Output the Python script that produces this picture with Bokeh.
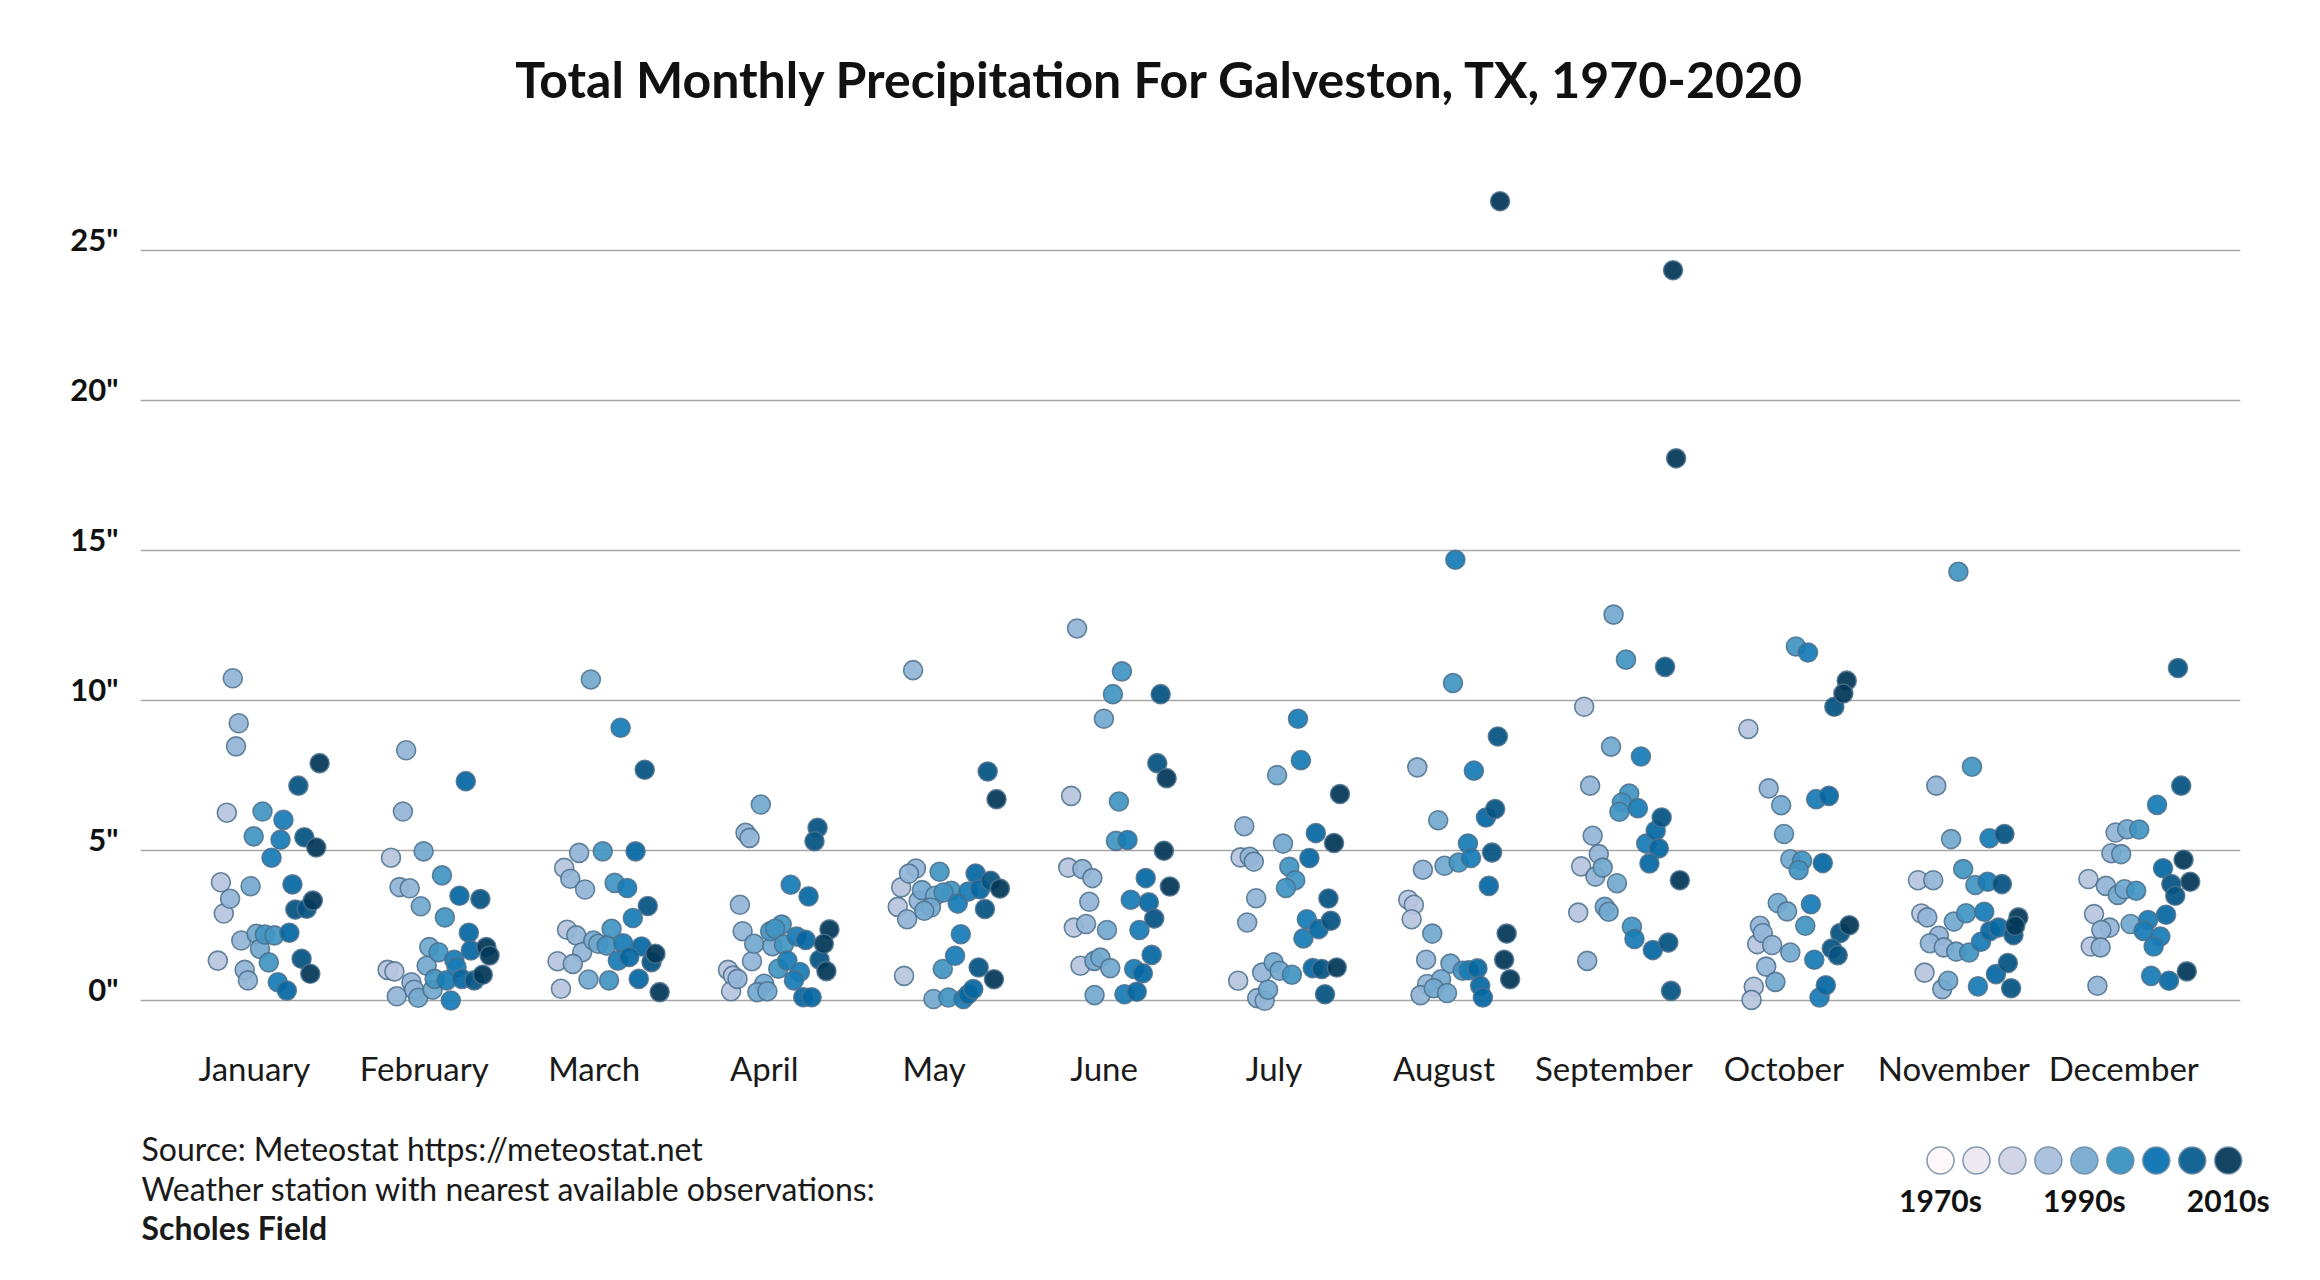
from bokeh.plotting import figure
from bokeh.models import (ColumnDataSource, LinearColorMapper, FixedTicker, Range1d,
                          LinearAxis, Grid, Label)
from bokeh.embed import file_html
from bokeh.resources import INLINE
from bokeh.core.properties import value
from bokeh.transform import transform

TITLE = "Total Monthly Precipitation For Galveston, TX, 1970-2020"
months = ["January", "February", "March", "April", "May", "June", "July",
          "August", "September", "October", "November", "December"]
y_ticks = [0, 5, 10, 15, 20, 25]
y_tick_labels = ['0"', '5"', '10"', '15"', '20"', '25"']
legend_years = [1970, 1975, 1980, 1985, 1990, 1995, 2000, 2005, 2010]
legend_labels = ["1970s", "1990s", "2010s"]
legend_label_years = [1970, 1990, 2010]
source_lines = ["Source: Meteostat https://meteostat.net",
                "Weather station with nearest available observations:",
                "Scholes Field"]
pubu9 = ["#fff7fb", "#ece7f2", "#d0d1e6", "#a6bddb", "#74a9cf",
         "#3690c0", "#0570b0", "#045a8d", "#023858"]

# ---- data: per month, horizontal jitter offset (month units), total inches, year ----
jan_offset = [-0.127, -0.092, -0.108, 0.384, 0.259, -0.162, 0.048, 0.171, -0.004, 0.154, 0.294, 0.364, 0.101, -0.197, -0.022, 0.224, -0.143, 0.344, 0.241, 0.308, -0.18, -0.077, 0.013, 0.062, 0.118, 0.206, 0.033, -0.215, 0.085, 0.278, -0.057, -0.038, 0.138, 0.191, 0.329]
jan_inches = [10.75, 9.25, 8.48, 7.92, 7.17, 6.27, 6.31, 6.03, 5.48, 5.37, 5.45, 5.11, 4.77, 3.95, 3.82, 3.88, 3.40, 3.34, 3.04, 3.07, 2.91, 2.01, 2.23, 2.21, 2.18, 2.27, 1.73, 1.34, 1.28, 1.40, 1.03, 0.68, 0.62, 0.34, 0.90]
jan_year = [1987, 1987, 1987, 2013, 2006, 1983, 1994, 1998, 1994, 1998, 2006, 2013, 1998, 1983, 1990, 2002, 1987, 2013, 2006, 2006, 1983, 1987, 1990, 1994, 1994, 2002, 1990, 1983, 1994, 2006, 1987, 1987, 1998, 2002, 2013]

feb_offset = [-0.107, 0.244, -0.126, -0.196, -0.004, 0.104, -0.146, -0.086, 0.207, 0.33, -0.021, 0.121, 0.262, 0.029, 0.084, 0.365, 0.384, 0.274, 0.176, 0.014, 0.19, -0.216, -0.176, 0.061, 0.131, 0.221, 0.294, 0.344, -0.076, -0.06, -0.162, -0.036, 0.049, 0.156]
feb_inches = [8.35, 7.32, 6.31, 4.77, 4.98, 4.18, 3.79, 3.75, 3.50, 3.39, 3.15, 2.78, 2.27, 1.79, 1.62, 1.79, 1.51, 1.68, 1.37, 1.17, 1.12, 1.03, 0.98, 0.73, 0.68, 0.73, 0.68, 0.87, 0.62, 0.37, 0.15, 0.10, 0.37, 0.01]
feb_year = [1987, 2002, 1987, 1983, 1990, 1994, 1987, 1987, 2002, 2006, 1990, 1994, 2002, 1990, 1994, 2013, 2013, 2002, 1998, 1990, 1998, 1983, 1983, 1994, 1998, 2002, 2006, 2013, 1987, 1987, 1987, 1990, 1990, 1998]

mar_offset = [-0.02, 0.155, 0.297, -0.089, 0.05, 0.243, -0.177, -0.141, -0.054, 0.12, 0.194, 0.315, 0.227, -0.16, -0.106, 0.102, -0.005, 0.024, 0.073, 0.17, 0.278, -0.071, 0.36, 0.139, 0.206, 0.337, -0.216, -0.126, -0.034, 0.087, 0.262, -0.196, 0.385]
mar_inches = [10.71, 9.10, 7.70, 4.93, 4.98, 4.98, 4.43, 4.07, 3.71, 3.93, 3.76, 3.16, 2.76, 2.37, 2.18, 2.40, 2.01, 1.90, 1.84, 1.92, 1.81, 1.62, 1.57, 1.34, 1.46, 1.29, 1.32, 1.23, 0.71, 0.68, 0.73, 0.40, 0.29]
mar_year = [1990, 1998, 2006, 1987, 1994, 2002, 1983, 1987, 1987, 1994, 1998, 2006, 1998, 1983, 1987, 1994, 1990, 1990, 1994, 1998, 2002, 1987, 2013, 1998, 2002, 2006, 1983, 1987, 1990, 1994, 2002, 1983, 2013]

apr_offset = [-0.02, -0.11, -0.086, 0.314, 0.296, 0.156, 0.261, -0.143, -0.127, 0.384, 0.035, 0.103, 0.064, 0.191, 0.244, 0.351, -0.059, 0.048, 0.116, 0.326, -0.072, 0.136, 0.083, 0.366, 0.21, -0.213, -0.184, -0.157, 0.175, 0.0, -0.195, -0.04, 0.019, 0.23, 0.279]
apr_inches = [6.54, 5.60, 5.43, 5.77, 5.32, 3.87, 3.48, 3.20, 2.32, 2.38, 2.32, 2.54, 2.40, 2.14, 2.03, 1.90, 1.90, 1.82, 1.88, 1.37, 1.32, 1.34, 1.07, 0.99, 0.96, 1.03, 0.84, 0.73, 0.68, 0.57, 0.32, 0.29, 0.32, 0.12, 0.12]
apr_year = [1990, 1987, 1987, 2006, 2006, 1998, 2002, 1987, 1987, 2013, 1994, 1994, 1994, 1998, 2002, 2013, 1990, 1990, 1994, 2006, 1987, 1998, 1994, 2013, 1998, 1983, 1983, 1987, 1998, 1990, 1983, 1990, 1990, 2002, 2002]

may_offset = [-0.124, 0.315, 0.367, -0.107, -0.148, 0.032, 0.244, -0.194, -0.072, 0.332, 0.387, 0.27, 0.201, 0.1, 0.055, 0.006, -0.091, -0.214, -0.019, -0.058, 0.139, 0.299, -0.159, 0.157, 0.123, 0.051, 0.262, 0.352, -0.177, -0.004, 0.084, 0.172, 0.201, 0.23]
may_inches = [11.02, 7.64, 6.72, 4.41, 4.24, 4.30, 4.24, 3.78, 3.69, 4.00, 3.74, 3.72, 3.64, 3.67, 3.61, 3.50, 3.33, 3.13, 3.11, 3.00, 3.24, 3.06, 2.72, 2.22, 1.50, 1.06, 1.11, 0.72, 0.83, 0.06, 0.11, 0.06, 0.22, 0.39]
may_year = [1987, 2006, 2013, 1987, 1987, 1994, 2002, 1983, 1990, 2006, 2013, 2002, 1998, 1994, 1994, 1990, 1987, 1983, 1990, 1990, 1998, 2006, 1987, 1998, 1998, 1994, 2006, 2013, 1983, 1990, 1994, 1998, 2002, 2002]

jun_offset = [-0.159, 0.105, 0.052, 0.333, -0.001, 0.313, 0.368, -0.194, 0.087, 0.07, 0.138, 0.352, -0.211, -0.128, -0.069, 0.245, 0.387, -0.087, 0.157, 0.263, 0.295, -0.178, -0.106, 0.017, 0.208, 0.28, -0.139, -0.057, -0.022, 0.036, 0.177, 0.228, -0.056, 0.12, 0.192]
jun_inches = [12.41, 10.98, 10.22, 10.22, 9.40, 7.92, 7.42, 6.83, 6.64, 5.33, 5.36, 5.00, 4.44, 4.39, 4.09, 4.09, 3.81, 3.30, 3.37, 3.28, 2.74, 2.44, 2.56, 2.36, 2.36, 1.53, 1.17, 1.33, 1.44, 1.09, 1.06, 0.92, 0.19, 0.22, 0.30]
jun_year = [1987, 1994, 1994, 2006, 1990, 2006, 2013, 1983, 1994, 1994, 1998, 2013, 1983, 1987, 1987, 2002, 2013, 1987, 1998, 2002, 2006, 1983, 1987, 1990, 1998, 2002, 1983, 1990, 1990, 1990, 1998, 2002, 1990, 1998, 2002]

jul_offset = [0.141, 0.158, 0.018, 0.388, -0.175, 0.246, 0.053, 0.353, -0.197, -0.143, -0.119, 0.208, 0.09, 0.125, 0.07, 0.32, -0.105, -0.158, 0.193, 0.334, 0.263, 0.173, -0.002, -0.07, 0.033, 0.105, 0.228, 0.281, 0.369, -0.211, -0.035, -0.099, -0.055, 0.3]
jul_inches = [9.40, 8.02, 7.52, 6.89, 5.82, 5.59, 5.24, 5.26, 4.78, 4.80, 4.64, 4.76, 4.47, 4.02, 3.76, 3.41, 3.42, 2.61, 2.72, 2.67, 2.39, 2.08, 1.28, 0.94, 1.00, 0.87, 1.09, 1.06, 1.11, 0.67, 0.37, 0.09, 0.00, 0.22]
jul_year = [1998, 1998, 1990, 2013, 1987, 2002, 1990, 2013, 1983, 1987, 1987, 2002, 1994, 1994, 1994, 2006, 1987, 1987, 1998, 2006, 2002, 1998, 1990, 1987, 1990, 1994, 2002, 2006, 2013, 1983, 1990, 1987, 1987, 2006]

aug_offset = [0.053, 0.317, -0.157, 0.176, 0.301, 0.247, -0.034, 0.141, 0.283, 0.159, 0.086, 0.003, -0.124, 0.264, -0.21, -0.177, -0.19, -0.069, 0.369, -0.105, 0.038, 0.354, 0.11, 0.145, 0.197, 0.389, -0.099, -0.017, -0.06, 0.018, 0.213, 0.229, -0.138, 0.067, 0.33]
aug_inches = [10.59, 8.81, 7.78, 7.67, 6.39, 6.11, 6.02, 5.24, 4.94, 4.76, 4.61, 4.50, 4.37, 3.83, 3.37, 3.20, 2.72, 2.24, 2.24, 1.37, 1.24, 1.37, 1.00, 1.02, 1.08, 0.72, 0.56, 0.72, 0.42, 0.26, 0.50, 0.11, 0.19, 14.7, 26.65]
aug_year = [1994, 2006, 1987, 1998, 2006, 2002, 1990, 1998, 2006, 1998, 1994, 1990, 1987, 2002, 1983, 1983, 1983, 1990, 2013, 1987, 1990, 2013, 1994, 1998, 2002, 2013, 1987, 1990, 1990, 1990, 2002, 2002, 1987, 1998, 2013]

sep_offset = [-0.002, 0.071, 0.301, -0.175, -0.017, 0.159, -0.14, 0.09, 0.047, 0.141, 0.032, 0.281, 0.246, -0.125, 0.19, 0.264, -0.089, -0.193, -0.066, -0.109, 0.209, 0.018, 0.388, -0.21, -0.054, -0.031, 0.106, 0.121, 0.229, 0.32, -0.157, 0.336, 0.348, 0.366]
sep_inches = [12.87, 11.37, 11.13, 9.80, 8.47, 8.14, 7.17, 6.91, 6.61, 6.42, 6.30, 6.11, 5.67, 5.50, 5.24, 5.08, 4.89, 4.48, 4.44, 4.14, 4.58, 3.92, 4.02, 2.94, 3.13, 2.97, 2.47, 2.06, 1.69, 1.94, 1.33, 0.33, 24.35, 18.08]
sep_year = [1990, 1994, 2006, 1983, 1990, 1998, 1987, 1994, 1994, 1998, 1994, 2006, 2002, 1987, 1998, 2002, 1987, 1983, 1990, 1987, 2002, 1990, 2013, 1983, 1990, 1990, 1994, 1998, 2002, 2006, 1987, 2006, 2013, 2013]

oct_offset = [0.071, 0.142, 0.37, 0.35, 0.297, -0.209, -0.089, -0.016, 0.19, 0.265, 0.001, 0.038, 0.107, 0.087, 0.229, -0.036, 0.019, 0.159, 0.126, -0.141, -0.124, 0.385, 0.331, -0.157, -0.069, 0.038, 0.282, 0.317, 0.179, -0.104, -0.05, -0.177, -0.19, 0.247, 0.21]
oct_inches = [11.81, 11.61, 10.67, 10.24, 9.80, 9.06, 7.08, 6.52, 6.72, 6.83, 5.56, 4.72, 4.67, 4.36, 4.59, 3.26, 2.98, 3.22, 2.50, 2.50, 2.26, 2.52, 2.26, 1.89, 1.86, 1.61, 1.74, 1.52, 1.37, 1.14, 0.63, 0.47, 0.03, 0.52, 0.11]
oct_year = [1994, 1998, 2013, 2013, 2006, 1983, 1987, 1990, 1998, 2002, 1990, 1990, 1994, 1994, 2002, 1990, 1990, 1998, 1994, 1987, 1987, 2013, 2006, 1983, 1987, 1990, 2006, 2006, 1998, 1987, 1990, 1983, 1983, 2002, 1998]

nov_offset = [0.107, -0.103, -0.016, 0.21, 0.298, 0.055, -0.211, -0.121, 0.127, 0.199, 0.283, -0.191, -0.156, 0.072, 0.179, 0.0, 0.38, 0.361, 0.214, 0.263, 0.351, -0.088, -0.141, 0.16, -0.059, 0.014, 0.09, -0.172, -0.033, -0.068, 0.142, 0.248, 0.318, 0.337, 0.027]
nov_inches = [7.80, 7.17, 5.39, 5.42, 5.56, 4.39, 4.02, 4.02, 3.86, 3.97, 3.89, 2.91, 2.78, 2.92, 2.97, 2.64, 2.78, 2.50, 2.33, 2.44, 2.19, 2.17, 1.92, 1.97, 1.78, 1.64, 1.61, 0.94, 0.67, 0.39, 0.48, 0.89, 1.26, 0.42, 14.3]
nov_year = [1994, 1987, 1990, 1998, 2006, 1994, 1983, 1987, 1994, 1998, 2006, 1983, 1987, 1994, 1998, 1990, 2013, 2013, 2002, 2002, 2006, 1987, 1987, 1998, 1987, 1990, 1994, 1983, 1990, 1987, 1998, 2002, 2006, 2006, 1994]

dec_offset = [0.319, 0.338, 0.196, -0.048, 0.02, 0.091, -0.073, -0.015, 0.352, 0.231, -0.208, -0.105, 0.391, 0.28, -0.035, 0.005, 0.073, 0.303, -0.175, 0.249, 0.04, 0.143, -0.083, -0.132, 0.117, 0.215, 0.176, -0.194, -0.136, 0.161, 0.266, 0.371, -0.155]
dec_inches = [11.09, 7.17, 6.53, 5.61, 5.72, 5.71, 4.92, 4.89, 4.70, 4.42, 4.06, 3.83, 3.97, 3.89, 3.53, 3.72, 3.67, 3.50, 2.89, 2.87, 2.56, 2.69, 2.44, 2.36, 2.33, 2.14, 1.81, 1.81, 1.78, 0.83, 0.67, 0.98, 0.50]
dec_year = [2006, 2006, 1998, 1987, 1990, 1994, 1987, 1990, 2013, 2002, 1983, 1987, 2013, 2006, 1990, 1990, 1994, 2006, 1983, 2002, 1990, 1998, 1987, 1987, 1998, 1998, 1998, 1983, 1987, 1998, 2002, 2013, 1987]

month_data = [
    (jan_offset, jan_inches, jan_year), (feb_offset, feb_inches, feb_year),
    (mar_offset, mar_inches, mar_year), (apr_offset, apr_inches, apr_year),
    (may_offset, may_inches, may_year), (jun_offset, jun_inches, jun_year),
    (jul_offset, jul_inches, jul_year), (aug_offset, aug_inches, aug_year),
    (sep_offset, sep_inches, sep_year), (oct_offset, oct_inches, oct_year),
    (nov_offset, nov_inches, nov_year), (dec_offset, dec_inches, dec_year),
]

# ---- table: month index + jitter offset on a numeric month axis ----
rows = []
for mi, (offs, vals, yrs) in enumerate(month_data):
    for o, v, yr in zip(offs, vals, yrs):
        rows.append((yr, mi + o, v, months[mi]))
rows.sort(key=lambda r: r[0])  # later years drawn on top
src = ColumnDataSource(dict(year=[r[0] for r in rows], x=[r[1] for r in rows],
                            inches=[r[2] for r in rows], month=[r[3] for r in rows]))


def _rgb(h):
    return tuple(int(h[i:i + 2], 16) for i in (1, 3, 5))


palette = []
for k in range(256):
    t = k / 255 * 8
    i = min(int(t), 7)
    f = t - i
    a, b = _rgb(pubu9[i]), _rgb(pubu9[i + 1])
    palette.append("#%02x%02x%02x" % tuple(round(a[j] + (b[j] - a[j]) * f) for j in range(3)))
mapper = LinearColorMapper(palette=palette, low=legend_years[0], high=legend_years[-1])

FONT = "Lato"
W = 2312
FILL_ALPHA = 0.93

# ---------------- header (title) ----------------
head = figure(width=W, height=150, x_range=Range1d(0, W), y_range=Range1d(0, 150),
              output_backend="svg", toolbar_location=None,
              x_axis_location=None, y_axis_location=None, min_border=0,
              background_fill_color="white", border_fill_color="white",
              outline_line_color=None)
head.xgrid.visible = False
head.ygrid.visible = False
head.text(x=[1160], y=[72], text=[TITLE], text_align="center", text_baseline="alphabetic",
          text_font=value(FONT), text_font_size="50px", text_font_style="bold",
          text_color="#111111")

# ---------------- main chart ----------------
Y0, Y1 = -0.99, 28.34
LABEL_SHIFT = 0.39

p = figure(width=W, height=960,
           x_range=Range1d(-0.670, 11.687), y_range=Range1d(Y0, Y1),
           output_backend="svg", toolbar_location=None,
           x_axis_location="below", y_axis_location=None,
           min_border_left=140, min_border_right=72,
           min_border_top=0, min_border_bottom=80,
           background_fill_color="white", border_fill_color="white",
           outline_line_color=None)

p.xaxis.ticker = FixedTicker(ticks=list(range(len(months))))
p.xaxis.major_label_overrides = {i: m for i, m in enumerate(months)}
p.xaxis.axis_line_color = None
p.xaxis.major_tick_line_color = None
p.xaxis.minor_tick_line_color = None
p.xaxis.major_label_standoff = 11
p.xaxis.major_label_text_font = FONT
p.xaxis.major_label_text_font_size = "33px"
p.xaxis.major_label_text_color = "#1a1a1a"
p.xgrid.visible = False

p.add_layout(Grid(dimension=1, ticker=FixedTicker(ticks=y_ticks),
                  grid_line_color="#a6a6a6", grid_line_width=1.3))

# y labels sit just above their gridline
p.extra_y_ranges = {"lab": Range1d(Y0 - LABEL_SHIFT, Y1 - LABEL_SHIFT)}
yax = LinearAxis(y_range_name="lab", ticker=FixedTicker(ticks=y_ticks),
                 major_label_overrides={t: l for t, l in zip(y_ticks, y_tick_labels)},
                 axis_line_color=None, major_tick_line_color=None,
                 minor_tick_line_color=None, major_label_standoff=16,
                 major_label_text_font=FONT, major_label_text_font_size="31px",
                 major_label_text_font_style="bold", major_label_text_color="#111111")
p.add_layout(yax, "left")

p.scatter("x", "inches", source=src, marker="circle", size=19,
          fill_color=transform("year", mapper), fill_alpha=FILL_ALPHA,
          line_color="#4c708c", line_alpha=0.85, line_width=1.6)

# ---------------- footer: source note and colour legend ----------------
foot = figure(width=W, height=162,
              x_range=Range1d(1700.3, 2021.72), y_range=Range1d(-1.821, 2.259),
              output_backend="svg", toolbar_location=None,
              x_axis_location=None, y_axis_location=None, min_border=0,
              background_fill_color="white", border_fill_color="white",
              outline_line_color=None)
foot.xgrid.visible = False
foot.ygrid.visible = False

foot.scatter(x=legend_years, y=[1] * len(legend_years), marker="circle", size=27,
             fill_color=pubu9, fill_alpha=FILL_ALPHA, line_color="#6f8ca3",
             line_alpha=0.85, line_width=1.6)
foot.text(x=legend_label_years, y=[0] * len(legend_label_years), text=legend_labels,
          text_align="center", text_baseline="alphabetic",
          text_font=value(FONT), text_font_size="30px", text_font_style="bold",
          text_color="#111111")

for txt, yy, style in zip(source_lines, [124, 84.5, 45], ["normal", "normal", "bold"]):
    foot.add_layout(Label(x=141, y=yy, x_units="screen", y_units="screen", text=txt,
                          text_align="left", text_baseline="alphabetic",
                          text_font=FONT, text_font_size="32px", text_font_style=style,
                          text_color="#1a1a1a"))

open("out.html", "w").write(file_html([head, p, foot], INLINE))
